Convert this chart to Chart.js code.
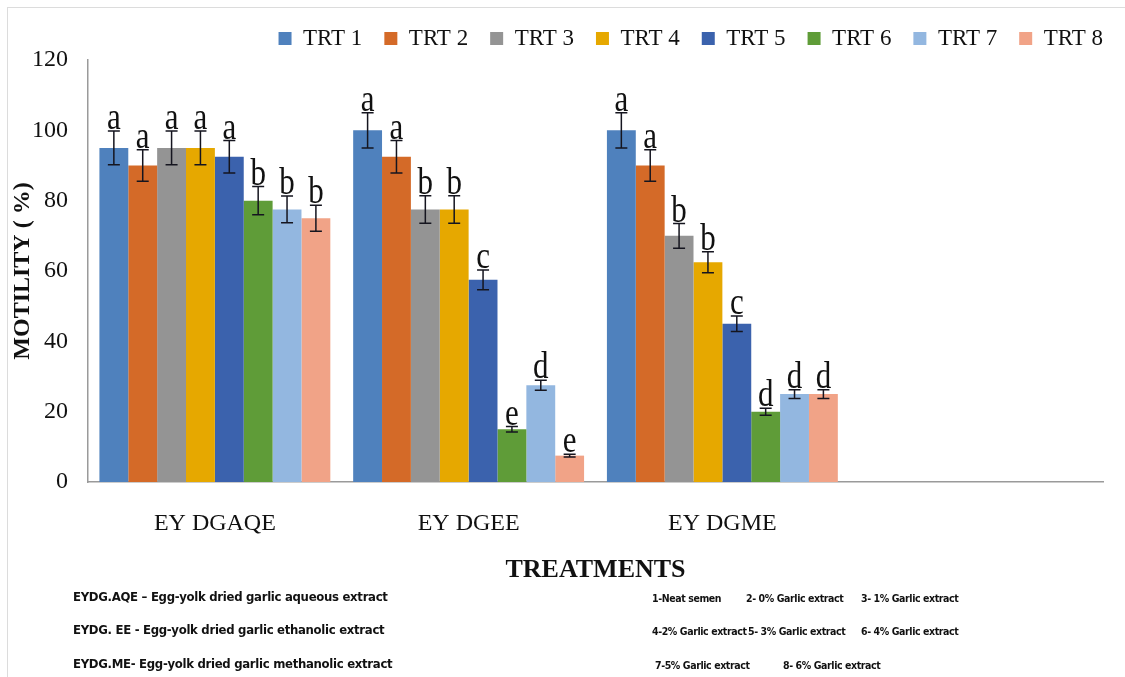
<!DOCTYPE html>
<html>
<head>
<meta charset="utf-8">
<script src="https://cdn.jsdelivr.net/npm/chart.js@4.4.1/dist/chart.umd.min.js"></script>
<style>
  html, body { margin: 0; padding: 0; background: #fff; }
  #frame {
    position: relative; width: 1125px; height: 677px; overflow: hidden;
  }
  #border {
    position: absolute; left: 7px; top: 7px; width: 1125px; height: 680px;
    border-left: 1px solid #dcdcdc; border-top: 1px solid #dcdcdc;
  }
  #chartBox { position: absolute; left: 0; top: 0; width: 1125px; height: 677px; }
  .note {
    position: absolute; white-space: nowrap;
    font-family: "Liberation Sans Narrow", "DejaVu Sans Condensed", "Liberation Sans", sans-serif;
    font-weight: bold; font-size: 13px; color: #111; letter-spacing: -0.3px;
    line-height: 14px;
  }
  .note.key { font-size: 10.5px; letter-spacing: -0.4px; }
</style>
</head>
<body>
<div id="frame">
  <div id="border"></div>
  <div id="chartBox"><canvas id="motility"></canvas></div>

  <div class="note" style="left:73px; top:590px;">EYDG.AQE – Egg-yolk dried garlic aqueous extract</div>
  <div class="note" style="left:73px; top:623px;">EYDG. EE - Egg-yolk dried garlic ethanolic extract</div>
  <div class="note" style="left:73px; top:657px;">EYDG.ME- Egg-yolk dried garlic methanolic extract</div>

  <div class="note key" style="left:652px; top:591px;">1-Neat semen</div>
  <div class="note key" style="left:746px; top:591px;">2- 0% Garlic extract</div>
  <div class="note key" style="left:861px; top:591px;">3- 1% Garlic extract</div>
  <div class="note key" style="left:652px; top:624px;">4-2% Garlic extract</div>
  <div class="note key" style="left:748px; top:624px;">5- 3% Garlic extract</div>
  <div class="note key" style="left:861px; top:624px;">6- 4% Garlic extract</div>
  <div class="note key" style="left:655px; top:658px;">7-5% Garlic extract</div>
  <div class="note key" style="left:783px; top:658px;">8- 6% Garlic extract</div>
</div>

<script>
'use strict';

/* ── data ─────────────────────────────────────────────────────────────── */

const groups = ['EY DGAQE', 'EY DGEE', 'EY DGME', ''];
const treatments = ['TRT 1', 'TRT 2', 'TRT 3', 'TRT 4', 'TRT 5', 'TRT 6', 'TRT 7', 'TRT 8'];

// mean motility (%) per treatment, one array per extract
const aqeMean = [95, 90, 95, 95, 92.5, 80, 77.5, 75];
const eeMean  = [100, 92.5, 77.5, 77.5, 57.5, 15, 27.5, 7.5];
const meMean  = [100, 90, 70, 62.5, 45, 20, 25, 25];

// error bar half-widths
const aqeErr = [4.8, 4.5, 4.8, 4.8, 4.6, 4, 3.8, 3.7];
const eeErr  = [5, 4.6, 3.9, 3.9, 2.8, 0.75, 1.4, 0.4];
const meErr  = [5, 4.5, 3.5, 3, 2.2, 1, 1.25, 1.25];

// significance letters
const aqeSig = ['a', 'a', 'a', 'a', 'a', 'b', 'b', 'b'];
const eeSig  = ['a', 'a', 'b', 'b', 'c', 'e', 'd', 'e'];
const meSig  = ['a', 'a', 'b', 'b', 'c', 'd', 'd', 'd'];

const yTicks = [0, 20, 40, 60, 80, 100, 120];

const COLORS = ['#4F81BD', '#D46A28', '#949494', '#E6A800', '#3B62AD', '#5F9C38', '#93B7E0', '#F1A387'];

/* ── datasets built from the arrays above ─────────────────────────────── */

const means = [aqeMean, eeMean, meMean];
const errs = [aqeErr, eeErr, meErr];
const sigs = [aqeSig, eeSig, meSig];

const datasets = treatments.map((name, i) => ({
    label: name,
    data: means.map(g => g[i]).concat([null]),
    err: errs.map(g => g[i]),
    sig: sigs.map(g => g[i]),
    backgroundColor: COLORS[i],
    borderWidth: 0,
    categoryPercentage: 0.91,
    barPercentage: 1.0,
}));

/* ── error bars + letters ─────────────────────────────────────────────── */

const errorBarPlugin = {
    id: 'errorBars',
    afterDatasetsDraw(chart) {
        const ctx = chart.ctx;
        const y = chart.scales.y;
        ctx.save();
        chart.data.datasets.forEach((ds, di) => {
            const meta = chart.getDatasetMeta(di);
            meta.data.forEach((bar, idx) => {
                const v = ds.data[idx];
                if (v == null) return;
                const e = ds.err[idx];
                const top = y.getPixelForValue(v + e);
                const bot = y.getPixelForValue(v - e);
                const x = bar.x;
                ctx.strokeStyle = '#15151f';
                ctx.lineWidth = 1.5;
                ctx.beginPath();
                ctx.moveTo(x, top); ctx.lineTo(x, bot);
                ctx.moveTo(x - 6, top); ctx.lineTo(x + 6, top);
                ctx.moveTo(x - 6, bot); ctx.lineTo(x + 6, bot);
                ctx.stroke();

                // letters are drawn slightly stretched, like the original figure
                ctx.save();
                ctx.translate(x, top - 2);
                ctx.scale(1, 1.25);
                ctx.fillStyle = '#111';
                ctx.font = '31px "Liberation Serif", "Times New Roman", serif';
                ctx.textAlign = 'center';
                ctx.textBaseline = 'alphabetic';
                ctx.fillText(ds.sig[idx], 0, 0);
                ctx.restore();
            });
        });
        ctx.restore();
    },
};

/* ── chart ────────────────────────────────────────────────────────────── */

const SERIF = '"Liberation Serif", "Times New Roman", serif';

new Chart(document.getElementById('motility').getContext('2d'), {
    type: 'bar',
    data: { labels: groups, datasets },
    options: {
        responsive: true,
        maintainAspectRatio: false,
        animation: false,
        layout: { padding: { top: 5, left: 0, right: 0, bottom: 91 } },
        plugins: {
            legend: {
                position: 'top',
                align: 'end',
                labels: {
                    boxWidth: 13,
                    boxHeight: 13,
                    padding: 22,
                    color: '#111',
                    font: { family: SERIF, size: 23 },
                },
            },
            tooltip: { enabled: false },
        },
        scales: {
            x: {
                grid: { display: false, drawTicks: false },
                border: { display: true, color: '#9a9a9a', width: 1.5 },
                ticks: { color: '#111', padding: 27, font: { family: SERIF, size: 24 } },
                title: {
                    display: true, text: 'TREATMENTS', color: '#111',
                    padding: { top: 0, bottom: 0 },
                    font: { family: SERIF, size: 26, weight: 'bold' },
                },
                afterFit: s => { s.height = 104; },
            },
            y: {
                min: 0,
                max: 120,
                afterBuildTicks: axis => { axis.ticks = yTicks.map(v => ({ value: v })); },
                grid: { display: false, drawTicks: false },
                border: { display: true, color: '#9a9a9a', width: 1.5 },
                ticks: { color: '#111', padding: 20, font: { family: SERIF, size: 24 } },
                title: {
                    display: true, text: 'MOTILITY ( %)', color: '#111',
                    padding: { top: 8, bottom: 0 },
                    font: { family: SERIF, size: 24, weight: 'bold' },
                },
                afterFit: s => { s.width = 88; },
            },
            // empty strip on the right so the plot stops short of the edge
            gutter: {
                position: 'right',
                display: true,
                grid: { display: false, drawTicks: false },
                border: { display: false },
                ticks: { display: false },
                afterFit: s => { s.width = 22; },
            },
        },
    },
    plugins: [errorBarPlugin],
});
</script>
</body>
</html>
